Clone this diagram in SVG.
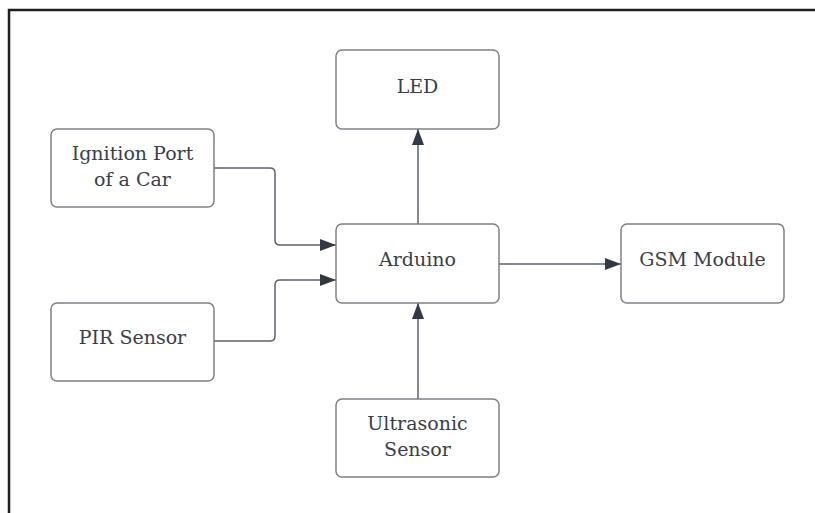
<svg xmlns="http://www.w3.org/2000/svg" width="815" height="513" viewBox="0 0 815 513">
<style>
.box{fill:#fff;stroke:#7d8087;stroke-width:1.5}
.lbl{font-family:'DejaVu Serif',serif;font-size:19px;fill:#3a3e47;text-anchor:middle}
.conn{fill:none;stroke:#5d626b;stroke-width:1.5}
</style>
<defs>
<marker id="ah" viewBox="0 0 16 12" refX="16" refY="6" markerWidth="16" markerHeight="12" markerUnits="userSpaceOnUse" orient="auto">
<path d="M0,0 L16,6 L0,12 Z" fill="#333944"/>
</marker>
</defs>
<rect x="0" y="0" width="815" height="513" fill="#fff"/>
<path d="M9,513 V10 H815" fill="none" stroke="#1e1e1e" stroke-width="2.5"/>
<g id="connectors">
<path class="conn" d="M214,168 H270 Q275,168 275,173 V240 Q275,245 280,245 H336" marker-end="url(#ah)"/>
<path class="conn" d="M214,341 H270 Q275,341 275,336 V285 Q275,280 280,280 H336" marker-end="url(#ah)"/>
<path class="conn" d="M418,224 V129" marker-end="url(#ah)"/>
<path class="conn" d="M418,399 V303" marker-end="url(#ah)"/>
<path class="conn" d="M499,264 H621" marker-end="url(#ah)"/>
</g>
<g id="led"><rect class="box" x="336" y="50" width="163" height="79" rx="6"/><text class="lbl" x="417.5" y="93">LED</text></g>
<g id="ignition"><rect class="box" x="51" y="129" width="163" height="78" rx="6"/><text class="lbl" x="132.5" y="160">Ignition Port</text><text class="lbl" x="132.5" y="186">of a Car</text></g>
<g id="pir"><rect class="box" x="51" y="303" width="163" height="78" rx="6"/><text class="lbl" x="132.5" y="344">PIR Sensor</text></g>
<g id="arduino"><rect class="box" x="336" y="224" width="163" height="79" rx="6"/><text class="lbl" x="417.5" y="266">Arduino</text></g>
<g id="gsm"><rect class="box" x="621" y="224" width="163" height="79" rx="6"/><text class="lbl" x="702.5" y="266">GSM Module</text></g>
<g id="ultrasonic"><rect class="box" x="336" y="399" width="163" height="78" rx="6"/><text class="lbl" x="417.5" y="430">Ultrasonic</text><text class="lbl" x="417.5" y="456">Sensor</text></g>
</svg>
